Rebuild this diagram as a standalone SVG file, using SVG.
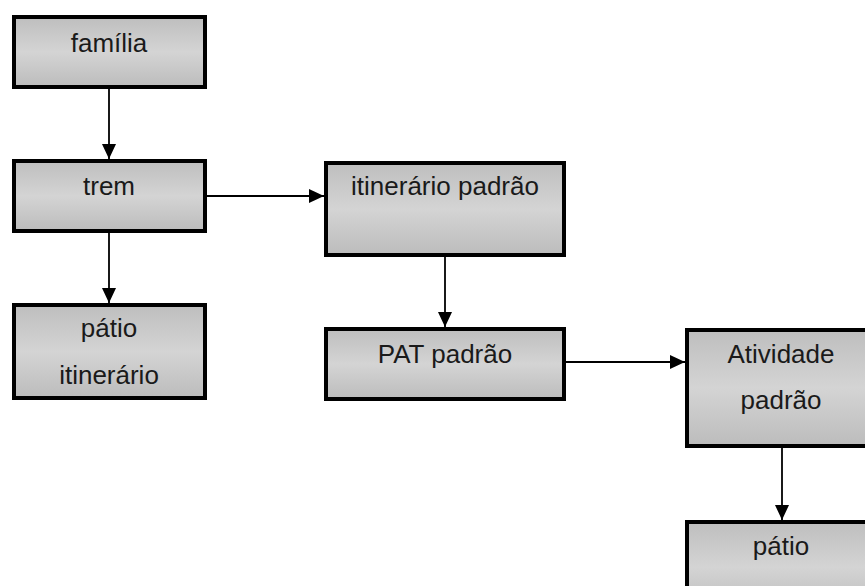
<svg xmlns="http://www.w3.org/2000/svg" width="865" height="586" viewBox="0 0 865 586">
<defs>
<linearGradient id="g" x1="0" y1="0" x2="0" y2="1">
<stop offset="0" stop-color="#bebebe"/>
<stop offset="0.5" stop-color="#d4d4d4"/>
<stop offset="1" stop-color="#bcbcbc"/>
</linearGradient>
<marker id="ah" markerWidth="15" markerHeight="14" refX="15" refY="7" orient="auto" markerUnits="userSpaceOnUse">
<path d="M0,0 L15,7 L0,14 Z" fill="#000"/>
</marker>
<style>
.box{fill:url(#g);stroke:#000;stroke-width:4}
.lbl{font-family:"Liberation Sans",Arial,sans-serif;font-size:26px;fill:#1a1a1a;text-anchor:middle}
.c{stroke:#000;stroke-width:1.8;fill:none;marker-end:url(#ah)}
</style>
</defs>
<rect width="865" height="586" fill="#fff"/>
<g id="connectors">
<line class="c" x1="109" y1="89" x2="109" y2="159"/>
<line class="c" x1="109" y1="233" x2="109" y2="303"/>
<line class="c" x1="207" y1="196" x2="324" y2="196"/>
<line class="c" x1="445" y1="257" x2="445" y2="327"/>
<line class="c" x1="566" y1="362" x2="685" y2="362"/>
<line class="c" x1="782" y1="448" x2="782" y2="520"/>
</g>
<g id="familia"><rect class="box" x="14" y="17" width="191" height="70"/><text class="lbl" x="109" y="52">família</text></g>
<g id="trem"><rect class="box" x="14" y="161" width="191" height="70"/><text class="lbl" x="109" y="195">trem</text></g>
<g id="patio-itinerario"><rect class="box" x="14" y="305" width="191" height="93"/><text class="lbl" x="109" y="337">pátio</text><text class="lbl" x="109" y="384">itinerário</text></g>
<g id="itinerario-padrao"><rect class="box" x="326" y="163" width="238" height="92"/><text class="lbl" x="445" y="195">itinerário padrão</text></g>
<g id="pat-padrao"><rect class="box" x="326" y="329" width="238" height="70"/><text class="lbl" x="445" y="363">PAT padrão</text></g>
<g id="atividade-padrao"><rect class="box" x="687" y="330" width="190" height="116"/><text class="lbl" x="781" y="363">Atividade</text><text class="lbl" x="781" y="409">padrão</text></g>
<g id="patio"><rect class="box" x="687" y="522" width="190" height="90"/><text class="lbl" x="781" y="555">pátio</text></g>
</svg>
